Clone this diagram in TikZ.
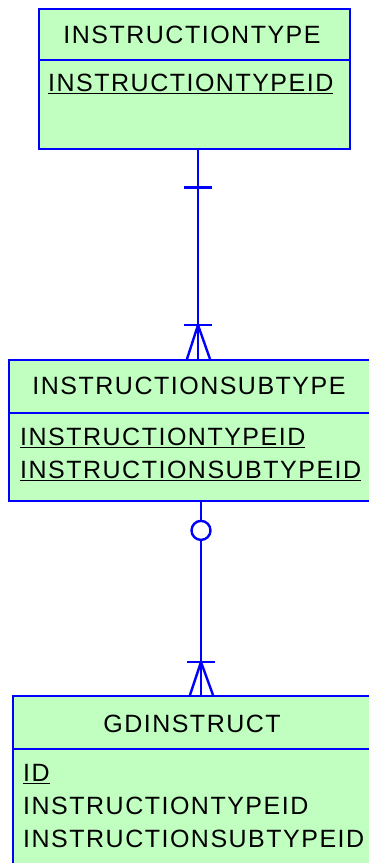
\documentclass[tikz,border=0pt]{standalone}
\usepackage{fontspec}
\setmainfont{Liberation Sans}[LetterSpace=6]
\usetikzlibrary{calc}
\definecolor{entgreen}{RGB}{192,255,192}
\definecolor{relblue}{RGB}{0,0,255}
\newcommand{\pk}[1]{\setbox0\hbox{#1}\rlap{\rule[-3pt]{\wd0}{1.5pt}}\box0}

\begin{document}
\begin{tikzpicture}[x=1pt, y=-1pt, font=\fontsize{25}{33.5}\selectfont,
    entity/.style={draw=relblue, fill=entgreen, line width=2.4pt, anchor=north west, inner sep=0pt},
    title/.style={anchor=base, inner sep=0pt},
    attr/.style={anchor=base west, inner sep=0pt},
    rel/.style={draw=relblue, line width=2.4pt}]
            \useasboundingbox (0,0) rectangle (369,863);
            % entities
            \node[entity, minimum width=311pt, minimum height=140pt] (itype) at (38,8) {};
            \draw[rel] ([yshift=-52pt]itype.north west) -- ([yshift=-52pt]itype.north east);
            \node[title] (itypename) at (192,43) {INSTRUCTIONTYPE};
            \node[attr] (itypeid) at (48,91) {\pk{INSTRUCTIONTYPEID}};
            \node[entity, minimum width=362pt, minimum height=141pt] (isub) at (8,359) {};
            \draw[rel] ([yshift=-54pt]isub.north west) -- ([yshift=-54pt]isub.north east);
            \node[title] (isubname) at (189,394) {INSTRUCTIONSUBTYPE};
            \node[attr] (isubtypeid) at (20,445) {\pk{INSTRUCTIONTYPEID}};
            \node[attr] (isubsubid) at (20,478) {\pk{INSTRUCTIONSUBTYPEID}};
            \node[entity, minimum width=360pt, minimum height=180pt] (gdi) at (12,695) {};
            \draw[rel] ([yshift=-54pt]gdi.north west) -- ([yshift=-54pt]gdi.north east);
            \node[title] (gdiname) at (192,732) {GDINSTRUCT};
            \node[attr] (gdiid) at (23,781) {\pk{ID}};
            \node[attr] (gditypeid) at (23,814) {INSTRUCTIONTYPEID};
            \node[attr] (gdisubid) at (23,847) {INSTRUCTIONSUBTYPEID};
            % relationships
            \coordinate (r1a) at ([xshift=160pt]itype.south west);
            \coordinate (r1b) at (isub.north -| r1a);
            \draw[rel] (r1a) -- (r1b);
            \draw[rel] ($(r1a)+(-14,37)$) -- ++(28,0);
            \draw[rel] ($(r1b)+(-14,-34)$) -- ++(28,0);
            \draw[rel] ($(r1b)+(-11,0)$) -- ($(r1b)+(0,-34)$) -- ($(r1b)+(12,0)$);
            \coordinate (r2a) at ([xshift=193pt]isub.south west);
            \coordinate (r2b) at (gdi.north -| r2a);
            \draw[rel] (r2a) -- (r2b);
            \filldraw[rel, fill=white] ($(r2a)+(0,28)$) circle (9.5pt);
            \draw[rel] ($(r2b)+(-14,-33)$) -- ++(28,0);
            \draw[rel] ($(r2b)+(-11,0)$) -- ($(r2b)+(0,-33)$) -- ($(r2b)+(12,0)$);
\end{tikzpicture}
\end{document}
